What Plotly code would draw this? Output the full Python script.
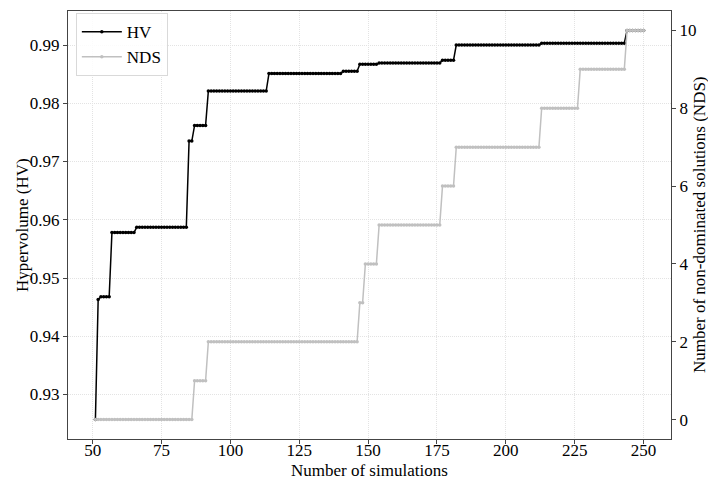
import plotly.graph_objects as go

# Step data: (first simulation of the step, value)
hv_step_start = [51, 52, 53, 57, 66, 85, 87, 92, 114, 141, 147, 154, 177, 182, 213, 244]
hv_step_value = [0.9257, 0.9463, 0.9468, 0.9578, 0.9587, 0.9735, 0.9762, 0.9821,
                 0.9851, 0.9855, 0.9867, 0.9869, 0.9874, 0.9900, 0.9903, 0.9925]
nds_step_start = [51, 87, 92, 147, 149, 154, 177, 182, 213, 227, 244]
nds_step_value = [0, 1, 2, 3, 4, 5, 6, 7, 8, 9, 10]
last_simulation = 250

x_ticks = [50, 75, 100, 125, 150, 175, 200, 225, 250]
hv_ticks = [0.93, 0.94, 0.95, 0.96, 0.97, 0.98, 0.99]
nds_ticks = [0, 2, 4, 6, 8, 10]


def expand(starts, values, end):
    xs, ys = [], []
    for i, (s, v) in enumerate(zip(starts, values)):
        e = starts[i + 1] if i + 1 < len(starts) else end + 1
        for k in range(s, e):
            xs.append(k)
            ys.append(v)
    return xs, ys


hv_x, hv_y = expand(hv_step_start, hv_step_value, last_simulation)
nds_x, nds_y = expand(nds_step_start, nds_step_value, last_simulation)

FONT = "Liberation Serif"
FS = 17

fig = go.Figure()
fig.add_trace(go.Scatter(
    x=hv_x, y=hv_y, name="HV", mode="lines+markers",
    line=dict(color="black", width=1.5),
    marker=dict(color="black", size=3.5),
))
fig.add_trace(go.Scatter(
    x=nds_x, y=nds_y, name="NDS", mode="lines+markers", yaxis="y2",
    line=dict(color="#c0c0c0", width=1.5),
    marker=dict(color="#c0c0c0", size=3.5),
))

xmin, xmax = min(hv_x), max(hv_x)
xpad = 0.05 * (xmax - xmin)
ymin, ymax = min(hv_y), max(hv_y)
ypad = 0.05 * (ymax - ymin)
nmin, nmax = min(nds_y), max(nds_y)
npad = 0.05 * (nmax - nmin)

axis_common = dict(
    showline=True, linecolor="#444444", linewidth=1,
    ticks="outside", ticklen=4, tickcolor="#444444",
    tickfont=dict(family=FONT, size=FS, color="black"),
    zeroline=False, automargin=False,
)
grid = dict(showgrid=True, gridcolor="#e3e3e3", griddash="1px,1px", gridwidth=1)

W, H = 708, 479
L, R, T, B = 68, 37, 11, 40
pw, ph = W - L - R, H - T - B

fig.update_layout(
    width=W, height=H,
    margin=dict(l=L, r=R, t=T, b=B, autoexpand=False),
    paper_bgcolor="white", plot_bgcolor="white",
    font=dict(family=FONT, size=FS, color="black"),
    showlegend=True,
    legend=dict(
        x=0.013, y=0.995, xanchor="left", yanchor="top",
        bgcolor="rgba(255,255,255,0.85)", bordercolor="#d9d9d9", borderwidth=1,
        font=dict(family=FONT, size=FS, color="black"),
        itemwidth=40, tracegroupgap=0,
    ),
    xaxis=dict(
        **axis_common, **grid,
        range=[xmin - xpad, xmax + xpad],
        tickvals=x_ticks,
        mirror=True,
        ticklabelstandoff=-8,
    ),
    yaxis=dict(
        **axis_common, **grid,
        range=[ymin - ypad, ymax + ypad],
        tickvals=hv_ticks, ticktext=[f"{t:.2f}" for t in hv_ticks],
    ),
    yaxis2=dict(
        **axis_common,
        overlaying="y", side="right",
        range=[nmin - npad, nmax + npad],
        tickvals=nds_ticks,
        showgrid=False,
    ),
    annotations=[
        dict(text="Number of simulations", xref="paper", yref="paper",
             x=0.5, y=-(470 - (T + ph)) / ph, xanchor="center", yanchor="middle",
             showarrow=False, font=dict(family=FONT, size=FS)),
        dict(text="Hypervolume (HV)", xref="paper", yref="paper",
             x=(22 - L) / pw, y=0.5, xanchor="center", yanchor="middle", textangle=-90,
             showarrow=False, font=dict(family=FONT, size=FS)),
        dict(text="Number of non-dominated solutions (NDS)", xref="paper", yref="paper",
             x=(699 - L) / pw, y=0.5, xanchor="center", yanchor="middle", textangle=-90,
             showarrow=False, font=dict(family=FONT, size=FS)),
    ],
)

fig.write_html(
    "out.html",
    config={"displayModeBar": False},
    post_script="document.body.style.margin='0';document.body.style.padding='0';",
)
